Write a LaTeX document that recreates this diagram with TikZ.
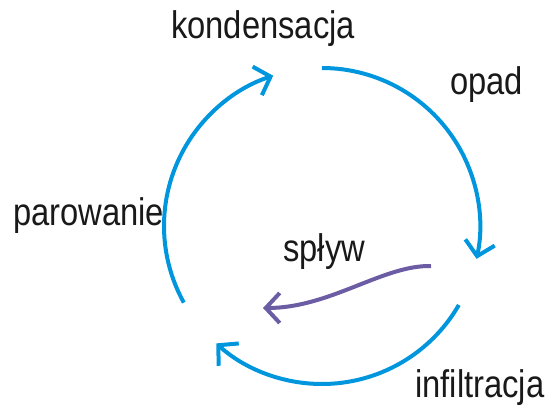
\documentclass[tikz,border=0pt]{standalone}
\usepackage{fontspec}
\usetikzlibrary{arrows.meta}
\newfontfamily\lblfont{Liberation Sans}[FakeStretch=0.85]
\definecolor{cycleblue}{RGB}{0,150,222}
\definecolor{runoffpurple}{RGB}{108,92,164}

\begin{document}
\begin{tikzpicture}[x=1pt, y=1pt,
    cyclearrow/.style={cycleblue, line width=4pt, -{Straight Barb[length=14pt, width=30pt, line width=4pt]}},
    runoffarrow/.style={runoffpurple, line width=4pt, -{Straight Barb[length=14pt, width=30pt, line width=4pt]}},
    lbl/.style={anchor=base west, inner sep=0pt, font=\lblfont\fontsize{38.5}{40}\selectfont, text=black!90}]
    \useasboundingbox (0,0) rectangle (549,416);

    % centre of the cycle
    \coordinate (c) at (322,190);

    % labels
    \node[lbl] (kond) at (171,377) {kondensacja};
    \node[lbl] (opad) at (450,321) {opad};
    \node[lbl] (parow) at (13,191) {parowanie};
    \node[lbl] (infil) at (415,19) {infiltracja};
    \node[lbl] (splyw) at (283,155) {spływ};

    % cycle arcs
    \draw[cyclearrow] (c) ++(90:158) arc[start angle=90, end angle=-12, radius=158];
    \draw[cyclearrow] (c) ++(-30:158) arc[start angle=-30, end angle=-132, radius=158];
    \draw[cyclearrow] (c) ++(209:158) arc[start angle=209, end angle=108, radius=158];

    % runoff
    \coordinate (r1) at (431,150);
    \coordinate (r2) at (263,108);
    \draw[runoffarrow] (r1) .. controls (383,151) and (330,108) .. (r2);

\end{tikzpicture}
\end{document}
